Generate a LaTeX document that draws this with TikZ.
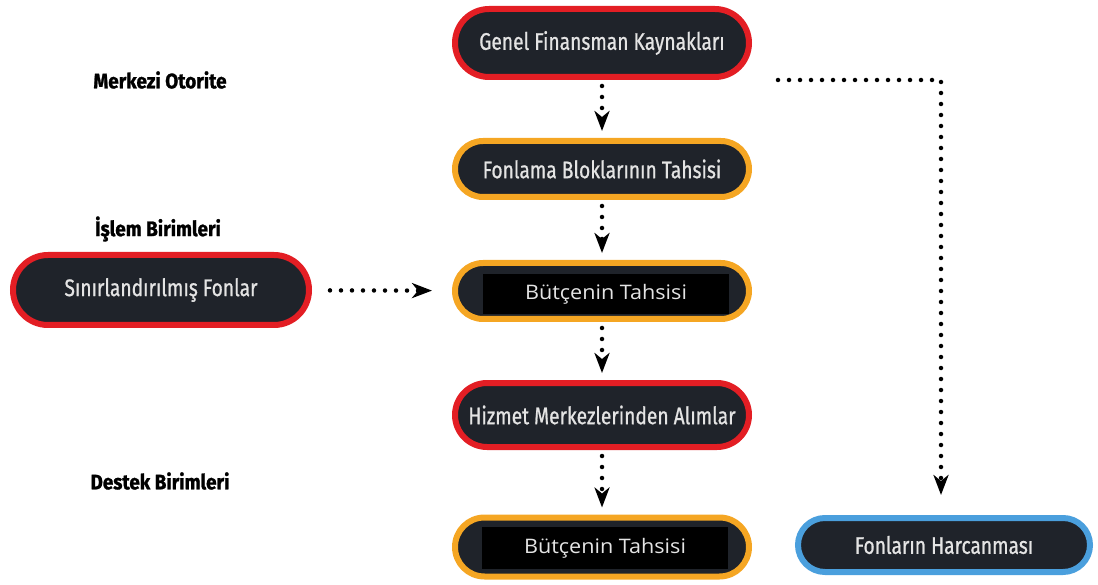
\documentclass[tikz,border=0pt]{standalone}
\usepackage{fontspec}
\usetikzlibrary{arrows.meta,shapes.misc}
\newfontfamily\condfont[FakeStretch=0.8,FakeBold=0.8]{Fira Sans}
\newfontfamily\condboldfont[FakeStretch=0.9,FakeBold=1.2]{Fira Sans Bold}
\newfontfamily\plainfont[FakeStretch=1.08]{Open Sans}
\definecolor{boxfill}{HTML}{1F232A}
\definecolor{boxtext}{HTML}{E4E4E4}
\definecolor{redrim}{HTML}{E31E24}
\definecolor{orangerim}{HTML}{F5A623}
\definecolor{bluerim}{HTML}{4A9FDD}
\tikzset{
  pill/.style={rounded rectangle, draw=#1, line width=6pt, fill=boxfill,
    text=boxtext, font=\condfont\fontsize{24}{28}\selectfont,
    minimum width=294pt, inner sep=0pt},
  blackpanel/.style={rectangle, fill=black, text=boxtext, inner sep=0pt,
    font=\plainfont\fontsize{20}{24}\selectfont},
  level/.style={font=\condboldfont\fontsize{21}{25}\selectfont, text=black},
  flow/.style={line width=4.5pt, line cap=round, dash pattern=on 0pt off 11pt,
    -{Stealth[length=20pt,width=15pt,inset=6pt]}}
}
\begin{document}
\begin{tikzpicture}[x=1pt,y=-1pt]
  \useasboundingbox (0,0) rectangle (1098,585);

  % level labels
  \node[level] (lvlA) at (160,80) {Merkezi Otorite};
  \node[level] (lvlB) at (158,229) {İşlem Birimleri};
  \node[level] (lvlC) at (160,481) {Destek Birimleri};

  % main column
  \node[pill=redrim, minimum height=68pt] (gen) at (602,43) {Genel Finansman Kaynakları};
  \node[pill=orangerim, minimum height=56pt] (blok) at (602,169) {Fonlama Bloklarının Tahsisi};
  \node[pill=orangerim, minimum height=56pt] (but1) at (602,291) {};
  \node[blackpanel, minimum width=246pt, minimum height=40pt] (but1t) at (606,294) {Bütçenin Tahsisi};
  \node[pill=redrim, minimum height=64pt] (hiz) at (602,415) {Hizmet Merkezlerinden Alımlar};
  \node[pill=orangerim, minimum height=59pt] (but2) at (602,547) {};
  \node[blackpanel, minimum width=246pt, minimum height=42pt] (but2t) at (605,548) {Bütçenin Tahsisi};

  % side boxes
  \node[pill=redrim, minimum width=296pt, minimum height=70pt] (sin) at (161,290) {Sınırlandırılmış Fonlar};
  \node[pill=bluerim, minimum width=292pt, minimum height=54pt] (harc) at (944,545) {Fonların Harcanması};

  % connectors
  \draw[flow, shorten <=6pt, shorten >=7pt] (gen) -- (blok);
  \draw[flow, shorten <=6pt, shorten >=7pt] (blok) -- (but1);
  \draw[flow, shorten <=6pt, shorten >=7pt] (but1) -- (hiz);
  \draw[flow, shorten <=6pt, shorten >=7pt] (hiz) -- (but2);
  \draw[flow, shorten <=18pt, shorten >=20pt] (sin) -- (but1);

  \coordinate (turnA) at (778,80);
  \coordinate (turnB) at (941,80);
  \draw[flow, shorten >=20pt] (turnA) -- (turnB) -- (turnB |- harc.north);
\end{tikzpicture}
\end{document}
